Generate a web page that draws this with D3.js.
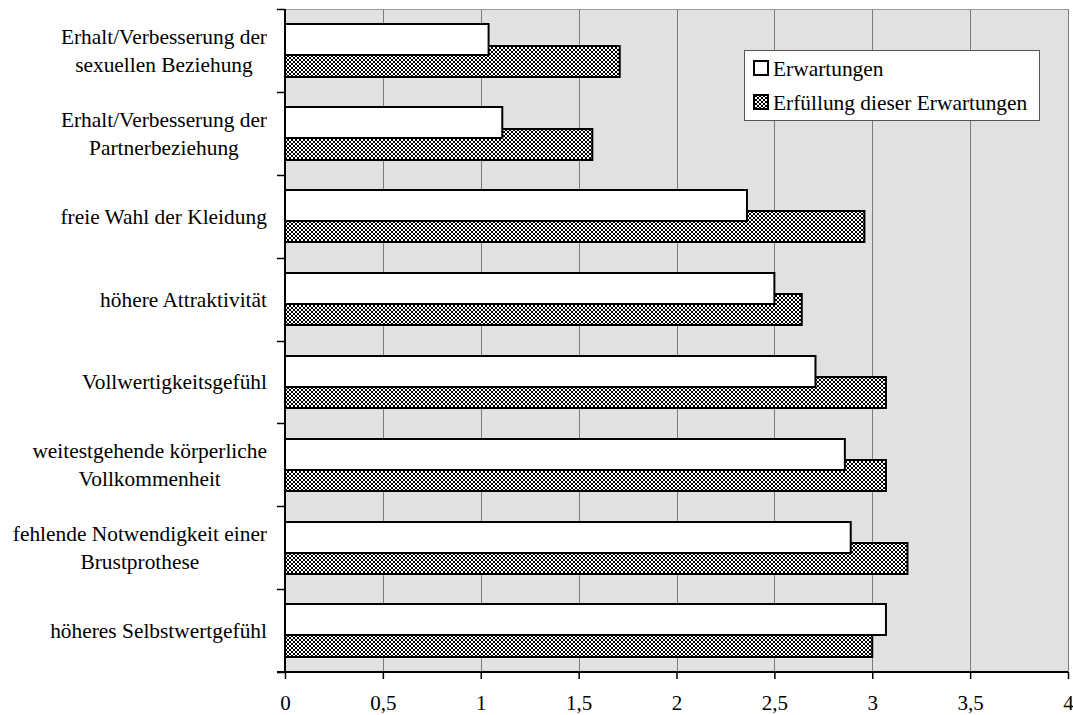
<!DOCTYPE html>
<html>
<head>
<meta charset="utf-8">
<script src="https://cdn.jsdelivr.net/npm/d3@7/dist/d3.min.js"></script>
<style>
  html, body { margin: 0; padding: 0; background: #ffffff; }
  svg { display: block; }
  text { font-family: "Liberation Serif", "Times New Roman", serif; fill: #000; }
</style>
</head>
<body>
<svg id="chart" width="1073" height="715"></svg>
<script>
// Categories (each entry split into its printed lines), top to bottom
const categories = [
  ["Erhalt/Verbesserung der", "sexuellen Beziehung"],
  ["Erhalt/Verbesserung der", "Partnerbeziehung"],
  ["freie Wahl der Kleidung"],
  ["höhere Attraktivität"],
  ["Vollwertigkeitsgefühl"],
  ["weitestgehende körperliche", "Vollkommenheit"],
  ["fehlende Notwendigkeit einer", "Brustprothese"],
  ["höheres Selbstwertgefühl"]
];

// Series values
const erwartungen = [1.04, 1.11, 2.36, 2.50, 2.71, 2.86, 2.89, 3.07];
const erfuellung  = [1.71, 1.57, 2.96, 2.64, 3.07, 3.07, 3.18, 3.00];

const seriesNames = ["Erwartungen", "Erfüllung dieser Erwartungen"];
const xTicks = [0, 0.5, 1, 1.5, 2, 2.5, 3, 3.5, 4];

const svg = d3.select("#chart");
const plot = { left: 285, right: 1068, top: 9, bottom: 672 };

const x = d3.scaleLinear().domain([0, 4]).range([plot.left, plot.right]);
const keys = categories.map(c => c.join(" "));
const y = d3.scaleBand().domain(keys).range([plot.top, plot.bottom]);

// Hatch fill for the second series
const defs = svg.append("defs");
const pat = defs.append("pattern")
  .attr("id", "lattice")
  .attr("patternUnits", "userSpaceOnUse")
  .attr("width", 4).attr("height", 4);
pat.append("rect").attr("width", 4).attr("height", 4).attr("fill", "#ffffff");
[[0,0],[3,0],[1,1],[2,1],[1,2],[2,2],[0,3],[3,3]].forEach(([px, py]) => {
  pat.append("rect").attr("x", px).attr("y", py).attr("width", 1).attr("height", 1)
    .attr("fill", "#000").attr("shape-rendering", "crispEdges");
});

// Plot background
svg.append("rect")
  .attr("x", plot.left).attr("y", plot.top)
  .attr("width", plot.right - plot.left).attr("height", plot.bottom - plot.top)
  .attr("fill", "#e1e1e1");

// Vertical gridlines
svg.append("g").selectAll("line")
  .data(xTicks.filter(t => t > 0))
  .join("line")
  .attr("x1", d => Math.round(x(d)) + 0.5).attr("x2", d => Math.round(x(d)) + 0.5)
  .attr("y1", plot.top).attr("y2", plot.bottom)
  .attr("stroke", "#7a7a7a").attr("stroke-width", 1);

// Top border of plot area
svg.append("line")
  .attr("x1", plot.left).attr("x2", plot.right)
  .attr("y1", plot.top + 0.5).attr("y2", plot.top + 0.5)
  .attr("stroke", "#9a9a9a").attr("stroke-width", 1);

// Bars
const bw = y.bandwidth();
const barH = bw * 0.374;
const offW = bw * 0.185;   // top of white bar within band
const offH = bw * 0.443;   // top of hatched bar within band

const bars = svg.append("g");
bars.selectAll("rect.erf")
  .data(erfuellung)
  .join("rect")
  .attr("class", "erf")
  .attr("x", x(0))
  .attr("y", (d, i) => Math.round(y(keys[i]) + offH))
  .attr("width", d => x(d) - x(0))
  .attr("height", Math.round(barH))
  .attr("fill", "url(#lattice)")
  .attr("stroke", "#000").attr("stroke-width", 2);

bars.selectAll("rect.erw")
  .data(erwartungen)
  .join("rect")
  .attr("class", "erw")
  .attr("x", x(0))
  .attr("y", (d, i) => Math.round(y(keys[i]) + offW))
  .attr("width", d => x(d) - x(0))
  .attr("height", Math.round(barH))
  .attr("fill", "#ffffff")
  .attr("stroke", "#000").attr("stroke-width", 2);

// X axis
const xAxis = svg.append("g")
  .attr("transform", `translate(0,${plot.bottom})`)
  .call(d3.axisBottom(x).tickValues(xTicks)
    .tickFormat(d => String(d).replace(".", ","))
    .tickSize(7).tickPadding(16).tickSizeOuter(0));
xAxis.select(".domain").attr("stroke", "#000").attr("stroke-width", 2)
  .attr("d", `M${plot.left - 8},0H${plot.right}`);
xAxis.selectAll(".tick line").attr("stroke", "#000").attr("stroke-width", 1.5);
xAxis.selectAll(".tick text").style("font-size", "21px")
  .style("font-family", '"Liberation Serif", "Times New Roman", serif');

// Y axis line and boundary ticks
svg.append("line")
  .attr("x1", plot.left).attr("x2", plot.left)
  .attr("y1", plot.top).attr("y2", plot.bottom)
  .attr("stroke", "#000").attr("stroke-width", 2);
const bounds = keys.map(k => y(k)).concat([plot.bottom]);
svg.append("g").selectAll("line")
  .data(bounds)
  .join("line")
  .attr("x1", plot.left - 8).attr("x2", plot.left)
  .attr("y1", d => Math.round(d) + 0.5).attr("y2", d => Math.round(d) + 0.5)
  .attr("stroke", "#000").attr("stroke-width", 1.5);

// Category labels: centred lines, block right-aligned next to the axis
const labelRight = 267;
const lineGap = 28;
const labels = svg.append("g").style("font-size", "21.4px");
categories.forEach((lines, i) => {
  const cy = y(keys[i]) + bw / 2;
  const t = labels.append("text").attr("text-anchor", "middle");
  lines.forEach((ln, j) => {
    t.append("tspan")
      .attr("x", 0)
      .attr("y", cy + (j - (lines.length - 1) / 2) * lineGap)
      .attr("dy", "0.35em")
      .text(ln);
  });
  const w = t.node().getBBox().width;
  t.selectAll("tspan").attr("x", labelRight - w / 2);
});

// Legend
const lg = svg.append("g");
lg.append("rect")
  .attr("x", 744.5).attr("y", 50.5).attr("width", 295).attr("height", 70)
  .attr("fill", "#ffffff").attr("stroke", "#555").attr("stroke-width", 1);
const fills = ["#ffffff", "url(#lattice)"];
seriesNames.forEach((name, i) => {
  const ry = 61 + i * 34;
  lg.append("rect")
    .attr("x", 754).attr("y", ry).attr("width", 14).attr("height", 14)
    .attr("fill", fills[i]).attr("stroke", "#000").attr("stroke-width", 2);
  lg.append("text")
    .attr("x", 773).attr("y", ry + 15)
    .style("font-size", "21.4px")
    .text(name);
});
</script>
</body>
</html>
